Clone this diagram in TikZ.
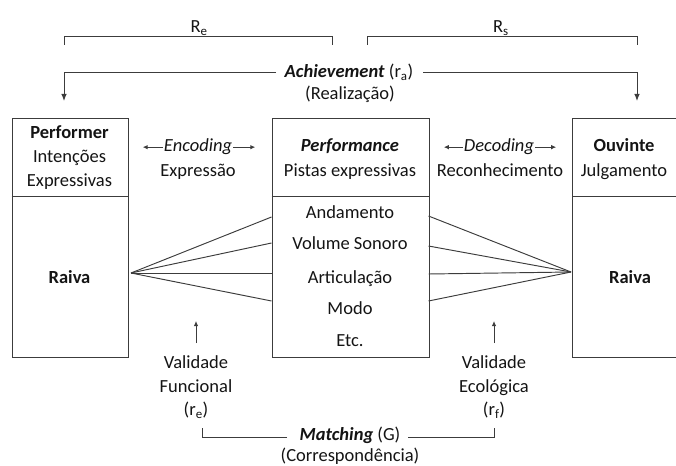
\documentclass[tikz,border=0pt]{standalone}
\usepackage{fontspec}
\setmainfont{Carlito}
\usetikzlibrary{arrows.meta}
\definecolor{linec}{RGB}{60,60,60}
\definecolor{txtc}{RGB}{20,20,20}
\begin{document}
\begin{tikzpicture}[x=1pt,y=-1pt,
  lbl/.style={font=\fontsize{18.5}{21}\selectfont, text=txtc, inner sep=0pt, anchor=base},
  ln/.style={draw=linec, line width=0.95pt},
  boxst/.style={ln, rectangle, inner sep=0pt, anchor=north west},
  arr/.style={ln, -{Latex[length=7pt,width=5.5pt]}},
  sarr/.style={ln, -{Latex[length=5pt,width=4.5pt]}},
]
\useasboundingbox (0,0) rectangle (676,465);

% boxes
\node[boxst, minimum width=116.5pt, minimum height=238.5pt] (pbox) at (11.5,118.5) {};
\node[boxst, minimum width=157pt, minimum height=238.5pt] (mbox) at (271.5,118.5) {};
\node[boxst, minimum width=120pt, minimum height=238.5pt] (obox) at (572,118.5) {};
\coordinate (pd1) at (11.5,196); \coordinate (pd2) at (128,196);
\coordinate (md1) at (271.5,196); \coordinate (md2) at (428.5,196);
\coordinate (od1) at (572,196); \coordinate (od2) at (692,196);
\draw[ln] (pd1) -- (pd2);
\draw[ln] (md1) -- (md2);
\draw[ln] (od1) -- (od2);

% top brackets
\node[lbl] (re) at (199,33) {R\textsubscript{e}};
\node[lbl] (rs) at (501,33) {R\textsubscript{s}};
\coordinate (re1) at (64,45); \coordinate (re2) at (64,36);
\coordinate (re3) at (332,36); \coordinate (re4) at (332,45);
\coordinate (rs1) at (367,45); \coordinate (rs2) at (367,36);
\coordinate (rs3) at (637,36); \coordinate (rs4) at (637,45);
\draw[ln] (re1) -- (re2) -- (re3) -- (re4);
\draw[ln] (rs1) -- (rs2) -- (rs3) -- (rs4);

% achievement
\node[lbl] (ach) at (349,78) {\textbf{\textit{Achievement}} (r\textsubscript{a})};
\node[lbl] (real) at (350,100) {(Realização)};
\coordinate (achL) at (276,72.5); \coordinate (achLc) at (64,72.5); \coordinate (achLe) at (64,101);
\coordinate (achR) at (423,72.5); \coordinate (achRc) at (637,72.5); \coordinate (achRe) at (637,101);
\draw[arr] (achL) -- (achLc) -- (achLe);
\draw[arr] (achR) -- (achRc) -- (achRe);

% left box texts
\node[lbl] (perf) at (69.5,139) {\textbf{Performer}};
\node[lbl] (int) at (69.5,162.5) {Intenções};
\node[lbl] (expr) at (69.5,186) {Expressivas};
\node[lbl] (raivaL) at (69.5,283) {\textbf{Raiva}};

% encoding
\node[lbl] (enc) at (198,152) {\textit{Encoding}};
\node[lbl] (exps) at (198,176) {Expressão};
\draw[sarr] ([xshift=-1pt]enc.west) -- ++(-20,0);
\draw[sarr] ([xshift=1pt]enc.east) -- ++(22,0);

% middle box texts
\node[lbl] (pfm) at (350,152) {\textbf{\textit{Performance}}};
\node[lbl] (pist) at (350,176) {Pistas expressivas};
\node[lbl] (and) at (350,218) {Andamento};
\node[lbl] (vol) at (350,249) {Volume Sonoro};
\node[lbl] (art) at (350,283) {Articulação};
\node[lbl] (modo) at (350,314) {Modo};
\node[lbl] (etc) at (350,346) {Etc.};

% decoding
\node[lbl] (dec) at (499,152) {\textit{Decoding}};
\node[lbl] (rec) at (500,176) {Reconhecimento};
\draw[sarr] ([xshift=-1pt]dec.west) -- ++(-19,0);
\draw[sarr] ([xshift=1pt]dec.east) -- ++(21,0);

% right box texts
\node[lbl] (ouv) at (624,151) {\textbf{Ouvinte}};
\node[lbl] (julg) at (624,176) {Julgamento};
\node[lbl] (raivaR) at (630,283) {\textbf{Raiva}};

% fans
\coordinate (L) at (131,273);
\coordinate (R) at (571,272);
\coordinate (a1) at (271.5,217); \coordinate (a2) at (271.5,243);
\coordinate (a3) at (271.5,273); \coordinate (a4) at (271.5,301);
\coordinate (b1) at (428.5,216); \coordinate (b2) at (428.5,246);
\coordinate (b3) at (428.5,274); \coordinate (b4) at (428.5,301);
\foreach \p in {a1,a2,a3,a4} \draw[ln] (L) -- (\p);
\foreach \p in {b1,b2,b3,b4} \draw[ln] (R) -- (\p);

% validity
\node[lbl] (vf1) at (196,368) {Validade};
\node[lbl] (vf2) at (196,392) {Funcional};
\node[lbl] (vf3) at (196,415.5) {(r\textsubscript{e})};
\node[lbl] (ve1) at (494,368) {Validade};
\node[lbl] (ve2) at (494,392) {Ecológica};
\node[lbl] (ve3) at (494,415.5) {(r\textsubscript{f})};
\coordinate (vfa) at (196,343); \coordinate (vfb) at (196,321);
\coordinate (vea) at (494,343); \coordinate (veb) at (494,321);
\draw[sarr] (vfa) -- (vfb);
\draw[sarr] (vea) -- (veb);

% matching
\node[lbl] (match) at (350,440) {\textbf{\textit{Matching}} (G)};
\node[lbl] (corr) at (350,461) {(Correspondência)};
\coordinate (m1) at (287,437.5); \coordinate (m2) at (202,437.5); \coordinate (m3) at (202,428);
\coordinate (n1) at (408,437.5); \coordinate (n2) at (494,437.5); \coordinate (n3) at (494,428);
\draw[ln] (m1) -- (m2) -- (m3);
\draw[ln] (n1) -- (n2) -- (n3);
\end{tikzpicture}
\end{document}
